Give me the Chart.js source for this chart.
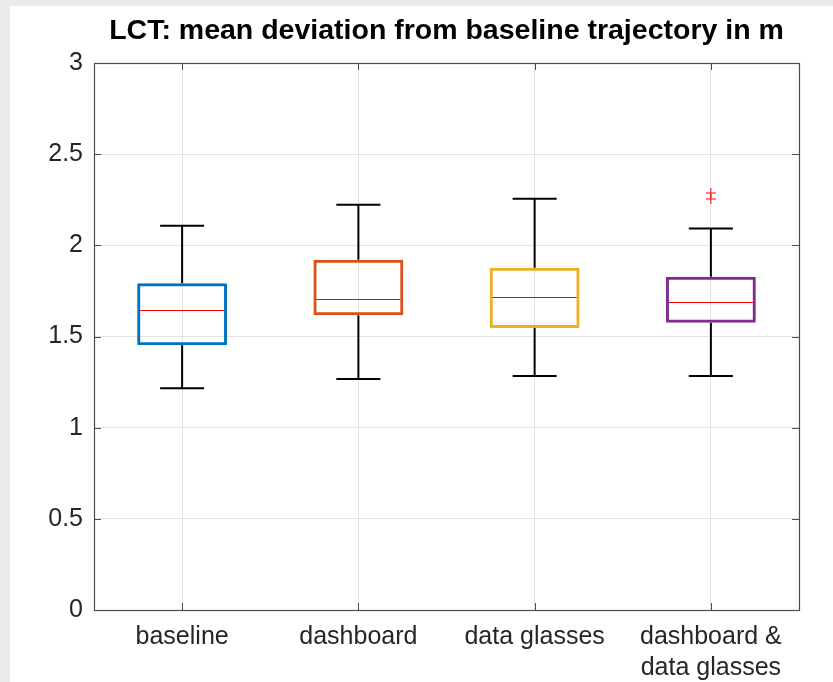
<!DOCTYPE html>
<html>
<head>
<meta charset="utf-8">
<title>LCT mean deviation</title>
<script src="https://cdn.jsdelivr.net/npm/chart.js@4.4.1/dist/chart.umd.min.js"></script>
<style>
  html, body { margin: 0; padding: 0; background: #ebebeb; }
  #wrap { position: absolute; left: 10px; top: 6px; width: 823px; height: 676px; background: #fff; }
</style>
</head>
<body>
<div id="wrap"><canvas id="boxChart" width="823" height="676"></canvas></div>
<script>
// ================================
// DATA
// ================================
const categories = ["baseline", "dashboard", "data glasses", ["dashboard &", "data glasses"]];
const whiskerLow = [1.216, 1.267, 1.284, 1.284];
const quart1 = [1.452, 1.617, 1.547, 1.575];
const medians = [1.646, 1.705, 1.718, 1.690];
const quart3 = [1.792, 1.921, 1.877, 1.828];
const whiskerHigh = [2.108, 2.222, 2.256, 2.092];
const outlierGroup = [3, 3];
const outlierValue = [2.287, 2.254];
const yTicks = [0, 0.5, 1, 1.5, 2, 2.5, 3];

const boxColors = ["#0072BD", "#D95319", "#EDB120", "#7E2F8E"];
const axisColor = "#4d4d4d";

Chart.defaults.font.family = "'Liberation Sans', Arial, sans-serif";
Chart.defaults.color = "#262626";

// whiskers, caps, medians, ticks and the axes box
const boxPlotExtras = {
  id: "boxPlotExtras",
  beforeDatasetsDraw(chart) {
    const { ctx, scales: { x, y } } = chart;
    const unit = x.getPixelForValue(1) - x.getPixelForValue(0);
    ctx.save();
    ctx.strokeStyle = "#000";
    ctx.lineWidth = 2;
    categories.forEach((c, i) => {
      const cx = x.getPixelForValue(i);
      const half = unit * 0.125;
      ctx.beginPath();
      ctx.moveTo(cx, y.getPixelForValue(quart3[i]));
      ctx.lineTo(cx, y.getPixelForValue(whiskerHigh[i]));
      ctx.moveTo(cx, y.getPixelForValue(quart1[i]));
      ctx.lineTo(cx, y.getPixelForValue(whiskerLow[i]));
      ctx.moveTo(cx - half, y.getPixelForValue(whiskerHigh[i]));
      ctx.lineTo(cx + half, y.getPixelForValue(whiskerHigh[i]));
      ctx.moveTo(cx - half, y.getPixelForValue(whiskerLow[i]));
      ctx.lineTo(cx + half, y.getPixelForValue(whiskerLow[i]));
      ctx.stroke();
    });
    ctx.restore();
  },
  afterDatasetsDraw(chart) {
    const { ctx, chartArea: a, scales: { x, y } } = chart;
    const unit = x.getPixelForValue(1) - x.getPixelForValue(0);
    ctx.save();
    ctx.strokeStyle = "#ff0000";
    ctx.lineWidth = 1;
    categories.forEach((c, i) => {
      const cx = x.getPixelForValue(i);
      const my = Math.round(y.getPixelForValue(medians[i])) + 0.5;
      ctx.beginPath();
      ctx.moveTo(cx - unit * 0.25 + 2, my);
      ctx.lineTo(cx + unit * 0.25 - 2, my);
      ctx.stroke();
    });

    // inward tick marks like MATLAB
    ctx.strokeStyle = axisColor;
    ctx.lineWidth = 1;
    const tl = 7;
    ctx.beginPath();
    y.ticks.forEach(t => {
      const py = Math.round(y.getPixelForValue(t.value)) + 0.5;
      ctx.moveTo(a.left, py); ctx.lineTo(a.left + tl, py);
      ctx.moveTo(a.right, py); ctx.lineTo(a.right - tl, py);
    });
    categories.forEach((c, i) => {
      const px = Math.round(x.getPixelForValue(i)) + 0.5;
      ctx.moveTo(px, a.top); ctx.lineTo(px, a.top + tl);
      ctx.moveTo(px, a.bottom); ctx.lineTo(px, a.bottom - tl);
    });
    ctx.stroke();

    ctx.strokeStyle = axisColor;
    ctx.lineWidth = 1.2;
    ctx.strokeRect(Math.round(a.left) + 0.5, Math.round(a.top) + 0.5,
      Math.round(a.right - a.left), Math.round(a.bottom - a.top));
    ctx.restore();
  }
};

// one point dataset per outlier, placed on its category
const outlierSets = outlierValue.map((v, k) => ({
  type: "line",
  label: "outlier " + (k + 1),
  data: categories.map((c, i) => (i === outlierGroup[k] ? v : null)),
  showLine: false,
  pointStyle: "cross",
  pointRadius: 5,
  borderColor: "#ff0000",
  backgroundColor: "#ff0000",
  borderWidth: 1,
  order: 1
}));

new Chart(document.getElementById("boxChart"), {
  type: "bar",
  data: {
    labels: categories,
    datasets: [
      {
        label: "box",
        data: quart1.map((q, i) => [q, quart3[i]]),
        backgroundColor: "rgba(255,255,255,0)",
        borderColor: boxColors,
        borderWidth: 3,
        borderSkipped: false,
        borderRadius: 1,
        barPercentage: 0.51,
        categoryPercentage: 1.0,
        order: 2
      },
      ...outlierSets
    ]
  },
  options: {
    responsive: false,
    animation: false,
    devicePixelRatio: 1,
    layout: { padding: { left: 0, right: 34, top: 0, bottom: 0 } },
    plugins: {
      legend: { display: false },
      tooltip: { enabled: false },
      title: {
        display: true,
        fullSize: false,
        text: "LCT: mean deviation from baseline trajectory in m",
        color: "#000",
        font: { size: 28.5, weight: "bold" },
        padding: { top: 8, bottom: 14.8 }
      }
    },
    scales: {
      x: {
        type: "category",
        offset: true,
        grid: { offset: false, color: "rgba(38,38,38,0.13)", drawTicks: false },
        border: { display: false },
        ticks: { font: { size: 25, lineHeight: 1.25 }, padding: 11, maxRotation: 0, autoSkip: false },
        afterFit(scale) { scale.height = 72; }
      },
      y: {
        min: 0,
        max: 3,
        afterBuildTicks(scale) { scale.ticks = yTicks.map(v => ({ value: v })); },
        grid: { color: "rgba(38,38,38,0.13)", drawTicks: false },
        border: { display: false },
        ticks: { font: { size: 25 }, padding: 11, callback: v => String(v) },
        afterFit(scale) { scale.width = 84; }
      }
    }
  },
  plugins: [boxPlotExtras]
});
</script>
</body>
</html>
